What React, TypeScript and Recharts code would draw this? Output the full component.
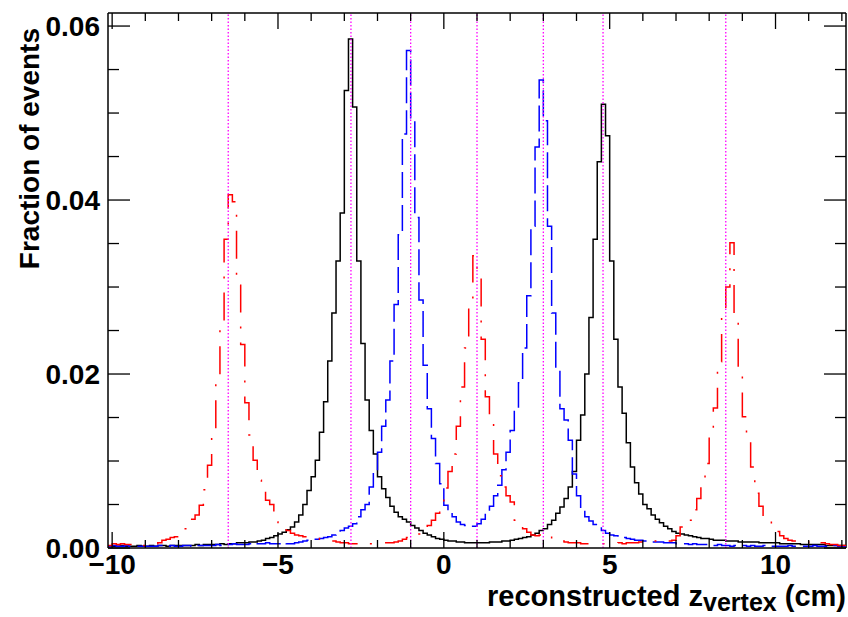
import { LineChart, Line, XAxis, YAxis, ReferenceLine } from 'recharts'

const W = 848
const H = 617
const X_AXIS_H = 40
const Y_AXIS_W = 60
const MARGIN = { top: 13, right: 2, left: 108 - Y_AXIS_W, bottom: 69 - X_AXIS_H }
const PLOT_TOP = MARGIN.top
const PLOT_RIGHT = W - MARGIN.right

// histogram binning (cm)
const BIN_LOW = -10.125
const BIN_WIDTH = 0.125
const X_MAX = 12.125
const Y_MAX = 0.0615

// bin contents, units of 1e-4, one row per cm (first and last entries are the edge bins)
const BLACK = [
  2,
  2, 2, 3, 2, 2, 2, 3, 2,
  2, 3, 2, 3, 3, 2, 3, 3,
  3, 3, 3, 3, 4, 3, 4, 4,
  4, 4, 5, 4, 5, 5, 6, 6,
  6, 7, 7, 8, 9, 11, 12, 14,
  16, 18, 21, 24, 30, 38, 50, 66,
  82, 101, 133, 168, 215, 270, 330, 385,
  526, 585, 507, 330, 235, 170, 135, 108,
  82, 68, 58, 48, 41, 36, 33, 30,
  26, 23, 20, 17, 15, 13, 11, 10,
  9, 8, 8, 7, 7, 6, 6, 6,
  6, 6, 6, 7, 7, 7, 8, 8,
  9, 10, 11, 12, 13, 15, 17, 20,
  22, 27, 32, 40, 47, 57, 70, 88,
  124, 153, 200, 265, 355, 444, 510, 474,
  330, 240, 185, 155, 121, 93, 75, 62,
  50, 45, 38, 33, 29, 25, 22, 19,
  17, 16, 15, 14, 13, 12, 11, 11,
  10, 9, 9, 9, 8, 8, 8, 7,
  7, 7, 7, 7, 6, 6, 6, 6,
  6, 5, 5, 5, 5, 5, 4, 4,
  4, 4, 4, 4, 3, 3, 3, 3,
  3,
]

const BLUE = [
  2,
  3, 2, 2, 3, 2, 2, 2, 2,
  2, 2, 2, 3, 2, 2, 3, 2,
  2, 3, 3, 2, 3, 3, 3, 3,
  3, 4, 3, 4, 4, 5, 4, 4,
  4, 5, 4, 5, 5, 6, 5, 5,
  5, 6, 5, 5, 6, 7, 8, 9,
  9, 10, 11, 12, 13, 15, 17, 20,
  23, 25, 28, 36, 44, 50, 70, 88,
  110, 140, 170, 215, 280, 360, 476, 572,
  492, 380, 285, 210, 160, 126, 97, 74,
  49, 42, 36, 30, 27, 26, 25, 25,
  28, 33, 40, 48, 60, 72, 90, 110,
  135, 160, 190, 230, 290, 370, 461, 538,
  491, 370, 270, 205, 160, 147, 124, 85,
  60, 46, 36, 31, 27, 23, 20, 17,
  15, 14, 13, 12, 11, 10, 9, 9,
  8, 8, 7, 7, 7, 6, 6, 6,
  5, 5, 5, 4, 5, 4, 4, 4,
  3, 3, 4, 3, 3, 2, 3, 3,
  3, 2, 3, 2, 2, 3, 2, 2,
  2, 2, 2, 3, 2, 2, 2, 2,
  2, 3, 2, 2, 2, 2, 3, 2,
  2,
]

const RED = [
  3,
  5, 4, 5, 4, 4, 3, 4, 3,
  4, 5, 5, 6, 9, 10, 12, 13,
  17, 22, 27, 33, 38, 49, 67, 95,
  132, 194, 260, 355, 406, 398, 302, 234,
  167, 130, 101, 78, 65, 55, 50, 30,
  28, 24, 20, 17, 15, 14, 13, 13,
  12, 11, 10, 9, 9, 8, 7, 6,
  6, 5, 5, 5, 5, 6, 5, 5,
  5, 5, 6, 6, 7, 8, 10, 12,
  12, 14, 16, 20, 26, 32, 40, 47,
  69, 88, 108, 140, 185, 230, 280, 336,
  318, 240, 174, 144, 108, 83, 70, 60,
  53, 32, 26, 22, 18, 15, 14, 15,
  16, 14, 10, 9, 8, 7, 6, 6,
  6, 5, 5, 5, 5, 5, 5, 5,
  5, 5, 6, 5, 6, 6, 6, 7,
  7, 8, 9, 8, 8, 9, 8, 9,
  14, 24, 28, 32, 44, 57, 75, 97,
  136, 161, 214, 274, 300, 351, 266, 205,
  151, 128, 93, 63, 48, 36, 34, 26,
  19, 14, 11, 9, 8, 7, 6, 6,
  8, 8, 7, 6, 5, 4, 4, 3,
  3,
]

const TARGET_Z = [-6.5, -2.8, -1.0, 1.0, 3.0, 4.8, 8.5]

const X_TICKS = [-10, -9, -8, -7, -6, -5, -4, -3, -2, -1, 0, 1, 2, 3, 4, 5, 6, 7, 8, 9, 10, 11, 12]
const X_LABELED = [-10, -5, 0, 5, 10]
const Y_TICKS = [0, 0.005, 0.01, 0.015, 0.02, 0.025, 0.03, 0.035, 0.04, 0.045, 0.05, 0.055, 0.06]
const Y_LABELED = [0, 0.02, 0.04, 0.06]

const FONT = '"Liberation Sans", Arial, Helvetica, sans-serif'

const data = BLACK.map((_, i) => ({
  z: BIN_LOW + i * BIN_WIDTH,
  black: BLACK[i] / 1e4,
  blue: BLUE[i] / 1e4,
  red: RED[i] / 1e4,
}))
data.push({
  z: X_MAX,
  black: BLACK[BLACK.length - 1] / 1e4,
  blue: BLUE[BLUE.length - 1] / 1e4,
  red: RED[RED.length - 1] / 1e4,
})

const isIn = (list: number[], v: number) => list.some(t => Math.abs(t - v) < 1e-9)

function renderXTick(props: any) {
  const { x, y, payload } = props
  const major = isIn(X_LABELED, payload.value)
  const len = major ? 16 : 8
  const v = payload.value
  const label = v < 0 ? `\u2212${Math.abs(v)}` : `${v}`
  return (
    <g key={`xt-${v}`}>
      <line x1={x} x2={x} y1={y} y2={y - len} stroke="#000" strokeWidth={1.3} />
      <line x1={x} x2={x} y1={PLOT_TOP} y2={PLOT_TOP + len} stroke="#000" strokeWidth={1.3} />
      {major && (
        <text x={x} y={y + 26} textAnchor="middle" fontFamily={FONT} fontWeight="bold" fontSize={28} fill="#000">
          {label}
        </text>
      )}
    </g>
  )
}

function renderYTick(props: any) {
  const { x, y, payload } = props
  const major = isIn(Y_LABELED, payload.value)
  const len = major ? 22 : 11
  return (
    <g key={`yt-${payload.value}`}>
      <line x1={x} x2={x + len} y1={y} y2={y} stroke="#000" strokeWidth={1.3} />
      <line x1={PLOT_RIGHT} x2={PLOT_RIGHT - len} y1={y} y2={y} stroke="#000" strokeWidth={1.3} />
      {major && (
        <text x={x - 8} y={y + 10} textAnchor="end" fontFamily={FONT} fontWeight="bold" fontSize={28} fill="#000">
          {payload.value.toFixed(2)}
        </text>
      )}
    </g>
  )
}

export default function App() {
  return (
    <div style={{ position: 'absolute', left: 0, top: 0, width: W, height: H, background: '#fff' }}>
      <LineChart width={W} height={H} data={data} margin={MARGIN}>
        <XAxis
          dataKey="z"
          type="number"
          domain={[BIN_LOW, X_MAX]}
          allowDataOverflow
          ticks={X_TICKS}
          interval={0}
          height={X_AXIS_H}
          tickSize={0}
          tickMargin={0}
          tickLine={false}
          tick={renderXTick}
          axisLine={{ stroke: '#000', strokeWidth: 1.5 }}
        />
        <YAxis
          type="number"
          domain={[0, Y_MAX]}
          allowDataOverflow
          ticks={Y_TICKS}
          interval={0}
          width={Y_AXIS_W}
          tickSize={0}
          tickMargin={0}
          tickLine={false}
          tick={renderYTick}
          axisLine={{ stroke: '#000', strokeWidth: 1.5 }}
        />
        <ReferenceLine y={Y_MAX} stroke="#000" strokeWidth={1.5} />
        <ReferenceLine x={X_MAX} stroke="#000" strokeWidth={1.5} />
        <Line dataKey="black" type="stepAfter" stroke="#000000" strokeWidth={1.5} dot={false} activeDot={false} isAnimationActive={false} />
        <Line dataKey="blue" type="stepAfter" stroke="#0000ff" strokeWidth={1.5} strokeDasharray="26 7" dot={false} activeDot={false} isAnimationActive={false} />
        <Line dataKey="red" type="stepAfter" stroke="#ff0000" strokeWidth={1.5} strokeDasharray="28 14 2 14" dot={false} activeDot={false} isAnimationActive={false} />
        {TARGET_Z.map(z => (
          <ReferenceLine key={z} x={z} stroke="#ff00ff" strokeWidth={1.3} strokeDasharray="1.5 2" />
        ))}
      </LineChart>
      <svg width={W} height={H} style={{ position: 'absolute', left: 0, top: 0, pointerEvents: 'none' }}>
        <text
          x={39}
          y={28}
          transform="rotate(-90 39 28)"
          textAnchor="end"
          fontFamily={FONT}
          fontWeight="bold"
          fontSize={28}
          fill="#000"
        >
          Fraction of events
        </text>
        <text x={PLOT_RIGHT} y={606} textAnchor="end" fontFamily={FONT} fontWeight="bold" fontSize={29} fill="#000">
          reconstructed z
          <tspan fontSize={25} dy={5}>vertex</tspan>
          <tspan dy={-5}> (cm)</tspan>
        </text>
      </svg>
    </div>
  )
}
